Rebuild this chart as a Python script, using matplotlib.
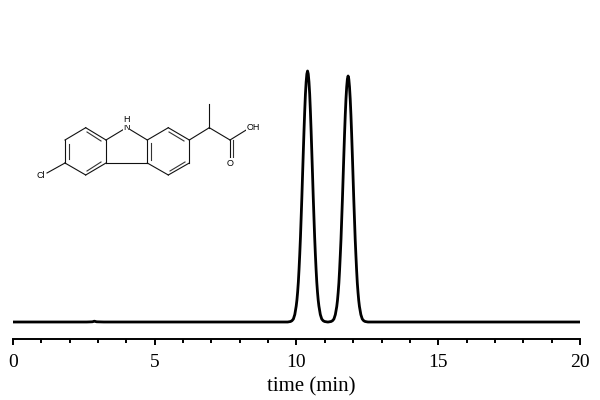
import matplotlib
matplotlib.use("Agg")
import matplotlib.pyplot as plt

time_base_left = [0.0, 2.6, 2.8, 2.87, 2.95, 3.2, 6.0, 9.0, 9.6]
signal_base_left = [17.0, 17.0, 17.2, 17.8, 17.2, 17.0, 17.0, 17.0, 17.0]

time_peak1 = [9.69, 9.79, 9.84, 9.89, 9.94, 9.99, 10.015, 10.04, 10.065, 10.09, 10.115, 10.14, 10.165,
              10.19, 10.215, 10.24, 10.265, 10.29, 10.315, 10.34, 10.365, 10.39, 10.415, 10.44, 10.465,
              10.49, 10.515, 10.54, 10.565, 10.59, 10.615, 10.64, 10.665, 10.69, 10.715, 10.74, 10.765,
              10.79, 10.84, 10.89, 10.94, 10.99, 11.09]
signal_peak1 = [17, 17.5, 18.3, 20, 24.5, 33, 39, 47, 57, 70, 85, 102, 122, 142.5, 165, 187, 208.5, 228,
                245, 257, 265, 268, 265, 257, 245, 228, 208.5, 187, 165, 142.5, 122, 102, 85, 70, 57,
                47, 39, 33, 24.5, 20, 18.3, 17.5, 17]

time_peak2 = [11.12, 11.22, 11.27, 11.32, 11.37, 11.42, 11.445, 11.47, 11.495, 11.52, 11.545, 11.57,
              11.595, 11.62, 11.645, 11.67, 11.695, 11.72, 11.745, 11.77, 11.795, 11.82, 11.845, 11.87,
              11.895, 11.92, 11.945, 11.97, 11.995, 12.02, 12.045, 12.07, 12.095, 12.12, 12.145, 12.17,
              12.195, 12.22, 12.27, 12.32, 12.37, 12.42, 12.52]
signal_peak2 = [17, 17.5, 18.3, 20, 24.4, 32.5, 38.5, 46.5, 56, 69, 84, 100, 120, 140, 162, 184, 205,
                224, 240, 252, 260, 263, 260, 252, 240, 224, 205, 184, 162, 140, 120, 100, 84, 69, 56,
                46.5, 38.5, 32.5, 24.4, 20, 18.3, 17.5, 17]

time_base_right = [13.5, 20.0]
signal_base_right = [17.0, 17.0]

time_min = time_base_left + time_peak1 + time_peak2 + time_base_right
signal = signal_base_left + signal_peak1 + signal_peak2 + signal_base_right

major_ticks = [0, 5, 10, 15, 20]
minor_ticks = [1, 2, 3, 4, 6, 7, 8, 9, 11, 12, 13, 14, 16, 17, 18, 19]
x_label = "time (min)"

# Structure drawing: atom positions and bonds of the inset molecule
atoms = {"c1": (85.7, 175), "c2": (106, 163), "c3": (106, 140), "c4": (85.7, 127.7),
         "c5": (65, 140), "c6": (65, 163), "n": (126.7, 127.5), "c7": (147.3, 140),
         "c8": (147.3, 163), "c9": (168.3, 127.7), "c10": (189.3, 140), "c11": (189.3, 163),
         "c12": (168.3, 175), "ch": (209.3, 127.7), "me": (209.3, 104), "co": (230, 140),
         "o": (230, 157), "oh": (247, 129.5), "cl": (47, 173)}
single_bonds = [("c1", "c2"), ("c3", "c4"), ("c4", "c5"), ("c5", "c6"), ("c6", "c1"),
                ("c2", "c3"), ("c3", "n"), ("n", "c7"), ("c2", "c8"), ("c7", "c8"),
                ("c7", "c9"), ("c9", "c10"), ("c10", "c11"), ("c11", "c12"), ("c12", "c8"),
                ("c10", "ch"), ("ch", "me"), ("ch", "co"), ("co", "o"), ("co", "oh"),
                ("c6", "cl")]
inner_bonds = [((69, 144), (69, 159)), ((87, 132), (101, 141)), ((87, 171), (101, 162)),
               ((151, 143), (151, 160)), ((169, 132), (184, 141)), ((170, 171), (185, 162)),
               ((232.5, 140), (232.5, 157))]
atom_labels = [("Cl", 40.5, 175), ("N", 126.7, 128), ("H", 126.7, 120), ("O", 230, 163), ("OH", 253, 127)]

plt.rcParams["font.family"] = ["Liberation Serif", "DejaVu Serif"]
fig = plt.figure(figsize=(6, 4), dpi=100)
ax = fig.add_axes([13 / 600, (400 - 339) / 400, 567 / 600, 299 / 400])
ax.plot(time_min, signal, color="black", lw=2.0, solid_joinstyle="round")
ax.set_xlim(0, 20)
ax.set_ylim(0, 299)
for s in ("top", "left", "right"):
    ax.spines[s].set_visible(False)
ax.spines["bottom"].set_linewidth(1.4)
ax.set_yticks([])
ax.set_xticks(major_ticks)
ax.set_xticks(minor_ticks, minor=True)
ax.tick_params(axis="x", which="major", length=4.5, width=1.4, labelsize=14, pad=6)
ax.tick_params(axis="x", which="minor", length=3, width=1.4)
ax.set_xlabel(x_label, fontsize=15, labelpad=4.5, x=0.5256)
ax.patch.set_alpha(0)

mol = fig.add_axes([0, 0, 1, 1])
mol.set_xlim(0, 600)
mol.set_ylim(400, 0)
mol.axis("off")
for a, b in single_bonds:
    mol.plot([atoms[a][0], atoms[b][0]], [atoms[a][1], atoms[b][1]], color="#111111", lw=0.8)
for p, q in inner_bonds:
    mol.plot([p[0], q[0]], [p[1], q[1]], color="#333333", lw=0.8)
for txt, x, y in atom_labels:
    mol.text(x, y, txt, ha="center", va="center", fontsize=6.5, family="Liberation Sans",
             bbox=dict(facecolor="white", edgecolor="none", pad=0.3))
fig.savefig("out.png", dpi=100)
